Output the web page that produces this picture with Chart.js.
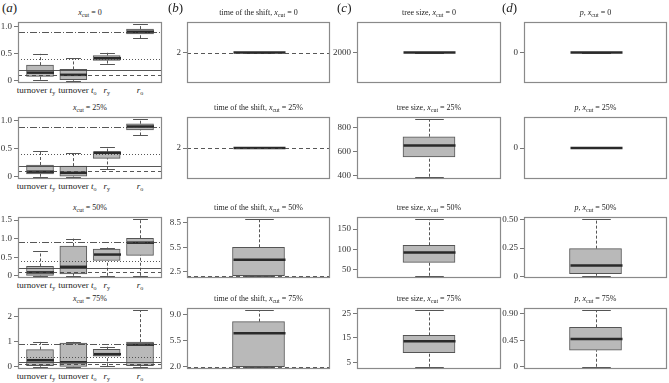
<!DOCTYPE html>
<html>
<head>
<meta charset="utf-8">
<script src="https://cdn.jsdelivr.net/npm/chart.js@4.4.1/dist/chart.umd.min.js"></script>
<style>
  body { margin: 0; background: #fff; font-family: "Liberation Serif", "DejaVu Serif", serif; color: #222; }
  #page { position: relative; width: 669px; height: 383px; overflow: hidden; }
  #page canvas { position: absolute; }
  .ttl { position: absolute; font-size: 8px; line-height: 1; white-space: nowrap; transform: translateX(-50%); }
  .xl { position: absolute; font-size: 9px; line-height: 1; white-space: nowrap; transform: translateX(-50%); }
  .ttl sub, .xl sub { font-size: 6px; vertical-align: -2px; line-height: 0; }
  .tag { position: absolute; font-size: 13px; line-height: 1; }
</style>
</head>
<body>
<div id="page"></div>
<script>
// --- values

const rowCuts = ['0', '25%', '50%', '75%'];
const columnTags = ['a', 'b', 'c', 'd'];
const columnPrefix = ['', 'time of the shift, ', 'tree size, ', '<i>p</i>, '];
const turnoverLabels = ['turnover <i>t</i><sub>y</sub>', 'turnover <i>t</i><sub>o</sub>', '<i>r</i><sub>y</sub>', '<i>r</i><sub>o</sub>'];

// each box: [lower whisker, q1, median, q3, upper whisker]
const turnoverStats = [
  [[0.02, 0.08, 0.15, 0.29, 0.50], [0.00, 0.02, 0.11, 0.21, 0.42], [0.32, 0.38, 0.42, 0.47, 0.52], [0.79, 0.87, 0.91, 0.96, 1.05]],
  [[0.00, 0.05, 0.09, 0.21, 0.46], [0.00, 0.01, 0.07, 0.19, 0.42], [0.13, 0.33, 0.43, 0.45, 0.54], [0.74, 0.84, 0.90, 0.95, 1.03]],
  [[0.00, 0.01, 0.09, 0.25, 0.66], [0.00, 0.05, 0.24, 0.80, 1.00], [0.00, 0.41, 0.57, 0.72, 0.76], [0.00, 0.55, 0.89, 1.01, 1.52]],
  [[0.00, 0.04, 0.26, 0.68, 0.99], [0.00, 0.01, 0.18, 0.94, 0.99], [0.02, 0.42, 0.50, 0.69, 0.80], [0.00, 0.04, 0.88, 0.98, 2.25]],
];
const shiftStats = [
  [[2, 2, 2, 2, 2]],
  [[2, 2, 2, 2, 2]],
  [[2, 2, 3.98, 5.5, 8.95]],
  [[2, 2, 6.48, 8.03, 9.55]],
];
const treeStats = [
  [[2000, 2000, 2000, 2000, 2000]],
  [[392, 557, 652, 725, 870]],
  [[35, 68, 92, 110, 174]],
  [[3.3, 9, 13.6, 16, 26.2]],
];
const pStats = [
  [[0, 0, 0, 0, 0]],
  [[0, 0, 0, 0, 0]],
  [[0.005, 0.023, 0.095, 0.245, 0.505]],
  [[0, 0.28, 0.47, 0.67, 0.96]],
];

const turnoverRefs = [0.9, 0.4, 0.2, 0.1];
const shiftRefs = [2];

const turnoverTicks = [[0, 0.5, 1], [0, 0.5, 1], [0, 0.5, 1, 1.5], [0, 1, 2]];
const turnoverTickLabels = [['0', '0.5', '1.0'], ['0', '0.5', '1.0'], ['0', '0.5', '1.0', '1.5'], ['0', '1', '2']];
const shiftTicks = [[2], [2], [2.5, 5.5, 8.5], [2, 5.5, 9]];
const shiftTickLabels = [['2'], ['2'], ['2.5', '5.5', '8.5'], ['2.0', '5.5', '9.0']];
const treeTicks = [[2000], [400, 600, 800], [50, 100, 150], [5, 15, 25]];
const treeTickLabels = [['2000'], ['400', '600', '800'], ['50', '100', '150'], ['5', '15', '25']];
const pTicks = [[0], [0], [0, 0.25, 0.5], [0, 0.45, 0.9]];
const pTickLabels = [['0'], ['0'], ['0', '0.25', '0.50'], ['0', '0.45', '0.90']];

// --- layout (plot frames in page pixels)
const colFrames = [[18, 162], [187, 330], [357, 501], [524, 667]];
const rowFrames = [[22, 83], [117, 179], [217, 278], [308, 369]];
const labelNudge = [-4, 4, 0, 0];
const refDashes = [[7, 2, 1, 2], [1, 2], [], [4, 3]];
const AXIS_W = 30;
const FONT = '"Liberation Serif", "DejaVu Serif", serif';

const page = document.getElementById('page');

// whiskers, medians, reference lines and the frame, all placed through the chart scales
const boxParts = {
  id: 'boxParts',
  afterDatasetsDraw(chart, args, opts) {
    const { ctx, chartArea: a, scales: { x, y } } = chart;
    const seg = (x1, y1, x2, y2) => { ctx.beginPath(); ctx.moveTo(x1, y1); ctx.lineTo(x2, y2); ctx.stroke(); };
    ctx.save();
    opts.stats.forEach((s, i) => {
      const cx = Math.round(x.getPixelForValue(i + 1)) + 0.5;
      const half = opts.boxWidth / 2;
      const cap = half * 0.55;
      ctx.strokeStyle = '#555';
      ctx.lineWidth = 1;
      ctx.setLineDash([3, 2]);
      if (s[4] > s[3]) seg(cx, y.getPixelForValue(s[3]), cx, y.getPixelForValue(s[4]));
      if (s[1] > s[0]) seg(cx, y.getPixelForValue(s[0]), cx, y.getPixelForValue(s[1]));
      ctx.setLineDash([]);
      const top = Math.round(y.getPixelForValue(s[4])) + 0.5;
      const bot = Math.round(y.getPixelForValue(s[0])) + 0.5;
      seg(cx - cap, top, cx + cap, top);
      seg(cx - cap, bot, cx + cap, bot);
      ctx.strokeStyle = '#2a2a2a';
      ctx.lineWidth = 2.5;
      const my = y.getPixelForValue(s[2]);
      seg(cx - half, my, cx + half, my);
    });
    ctx.lineWidth = 0.9;
    ctx.strokeStyle = '#444';
    opts.refs.forEach((r, i) => {
      ctx.setLineDash(opts.dashes[i]);
      const py = Math.round(y.getPixelForValue(r)) + 0.5;
      seg(a.left, py, a.right, py);
    });
    ctx.setLineDash([]);
    ctx.strokeStyle = '#8a8a8a';
    ctx.lineWidth = 1.2;
    ctx.strokeRect(a.left + 0.5, a.top + 0.5, a.right - a.left - 1, a.bottom - a.top - 1);
    ctx.restore();
  }
};

function yRange(stats, refs) {
  const vals = stats.flat().concat(refs);
  let lo = Math.min(...vals), hi = Math.max(...vals);
  if (hi === lo) return [lo - 1, hi + 1];
  const pad = (hi - lo) * 0.04;
  return [lo - pad, hi + pad];
}

function addText(cls, html, left, top) {
  const d = document.createElement('div');
  d.className = cls;
  d.innerHTML = html;
  d.style.left = left + 'px';
  d.style.top = top + 'px';
  page.appendChild(d);
  return d;
}

function drawPanel(col, row, stats, refs, ticks, tickLabels, boxWidth, xLabels) {
  const [fl, fr] = colFrames[col];
  const [ft, fb] = rowFrames[row];
  const canvas = document.createElement('canvas');
  const left = fl - AXIS_W, top = ft - 2;
  canvas.width = fr - fl + AXIS_W + 2;
  canvas.height = fb - ft + 4;
  canvas.style.left = left + 'px';
  canvas.style.top = top + 'px';
  page.appendChild(canvas);

  const [ymin, ymax] = yRange(stats, refs);
  const n = stats.length;

  const chart = new Chart(canvas, {
    type: 'bar',
    data: {
      datasets: [{
        data: stats.map((s, i) => ({ x: i + 1, y: [s[1], s[3]] })),
        backgroundColor: '#b9b9b9',
        borderColor: '#555',
        borderWidth: 1,
        borderSkipped: false,
        barThickness: boxWidth,
      }],
    },
    options: {
      responsive: false,
      animation: false,
      devicePixelRatio: 1,
      layout: { padding: { left: 0, top: 2, right: 2, bottom: 2 } },
      plugins: {
        legend: { display: false },
        tooltip: { enabled: false },
        boxParts: { stats, refs, boxWidth, dashes: col === 0 ? refDashes : [[4, 3]] },
      },
      scales: {
        x: {
          type: 'linear',
          display: false,
          offset: false,
          min: 0.5 - n * 0.04,
          max: n + 0.5 + n * 0.04,
        },
        y: {
          min: ymin,
          max: ymax,
          afterBuildTicks: s => { s.ticks = ticks.map(v => ({ value: v })); },
          afterFit: s => { s.width = AXIS_W; s.paddingTop = 0; s.paddingBottom = 0; },
          border: { display: false },
          grid: { drawOnChartArea: false, drawTicks: true, tickLength: 4, color: '#777' },
          ticks: {
            callback: (v, i) => tickLabels[i],
            color: '#333',
            padding: 2,
            font: { family: FONT, size: 9 },
          },
        },
      },
    },
    plugins: [boxParts],
  });

  addText('ttl', columnPrefix[col] + '<i>x</i><sub>cut</sub> = ' + rowCuts[row], (fl + fr) / 2, ft - 13);
  if (xLabels) {
    xLabels.forEach((lab, i) => {
      addText('xl', lab, left + chart.scales.x.getPixelForValue(i + 1) + labelNudge[i], fb + 3);
    });
  }
}

for (let r = 0; r < 4; r++) {
  drawPanel(0, r, turnoverStats[r], turnoverRefs, turnoverTicks[r], turnoverTickLabels[r], 27, turnoverLabels);
  drawPanel(1, r, shiftStats[r], shiftRefs, shiftTicks[r], shiftTickLabels[r], 52, null);
  drawPanel(2, r, treeStats[r], [], treeTicks[r], treeTickLabels[r], 52, null);
  drawPanel(3, r, pStats[r], [], pTicks[r], pTickLabels[r], 52, null);
}

const tagX = [2, 168, 337, 502];
columnTags.forEach((t, i) => addText('tag', '(<i>' + t + '</i>)', tagX[i], 1));
</script>
</body>
</html>
